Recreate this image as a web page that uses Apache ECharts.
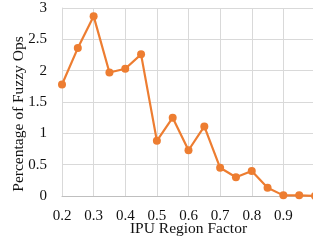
<!DOCTYPE html>
<html>
<head>
<meta charset="utf-8">
<script src="https://cdn.jsdelivr.net/npm/echarts@6/dist/echarts.min.js"></script>
<style>
  html, body { margin: 0; padding: 0; background: #fff; }
  #chart { width: 313px; height: 242px; }
</style>
</head>
<body>
<div id="chart"></div>
<script>
// IPU region factor vs. share of fuzzy ops
const regionFactor = [0.2, 0.25, 0.3, 0.35, 0.4, 0.45, 0.5, 0.55, 0.6, 0.65, 0.7, 0.75, 0.8, 0.85, 0.9, 0.95, 1.0];
const fuzzyPct = [1.78, 2.36, 2.87, 1.97, 2.03, 2.26, 0.88, 1.25, 0.73, 1.11, 0.45, 0.30, 0.40, 0.13, 0.01, 0.01, 0.0];
const yTicks = ['0', '0.5', '1', '1.5', '2', '2.5', '3'];

const font = 'Liberation Serif';
let myChart = echarts.init(document.getElementById('chart'));
myChart.setOption({
    animation: false,
    grid: { left: 62, right: -2, top: 8, bottom: 46, containLabel: false, outerBoundsMode: 'none' },
    xAxis: {
        type: 'value',
        min: 0.2,
        max: 1.0,
        interval: 0.1,
        name: 'IPU Region Factor',
        nameLocation: 'middle',
        nameGap: 25,
        nameMoveOverlap: false,
        nameTextStyle: { fontFamily: font, fontSize: 15.5, color: '#111' },
        axisLine: { lineStyle: { color: '#bfbfbf' } },
        axisTick: { show: false },
        splitLine: { lineStyle: { color: '#d9d9d9' } },
        axisLabel: {
            fontFamily: font, fontSize: 15, color: '#111', margin: 13,
            formatter: v => (Math.round(v * 10) >= 10 ? '' : (Math.round(v * 10) / 10).toFixed(1))
        }
    },
    yAxis: {
        type: 'value',
        min: 0,
        max: 3,
        interval: 0.5,
        name: 'Percentage of Fuzzy Ops',
        nameLocation: 'middle',
        nameGap: 35,
        nameMoveOverlap: false,
        nameTextStyle: { fontFamily: font, fontSize: 15.5, color: '#111', padding: [0, 24, 0, 0] },
        axisLine: { show: true, lineStyle: { color: '#d9d9d9' } },
        axisTick: { show: false },
        splitLine: { lineStyle: { color: '#d9d9d9' } },
        axisLabel: {
            fontFamily: font, fontSize: 15, color: '#111', margin: 15,
            formatter: v => yTicks[Math.round(v * 2)]
        }
    },
    series: [{
        type: 'line',
        data: regionFactor.map((x, i) => [x, fuzzyPct[i]]),
        symbol: 'circle',
        symbolSize: 8,
        itemStyle: { color: '#ED7D31' },
        lineStyle: { color: '#ED7D31', width: 2.2 },
        clip: false
    }]
});
</script>
</body>
</html>
